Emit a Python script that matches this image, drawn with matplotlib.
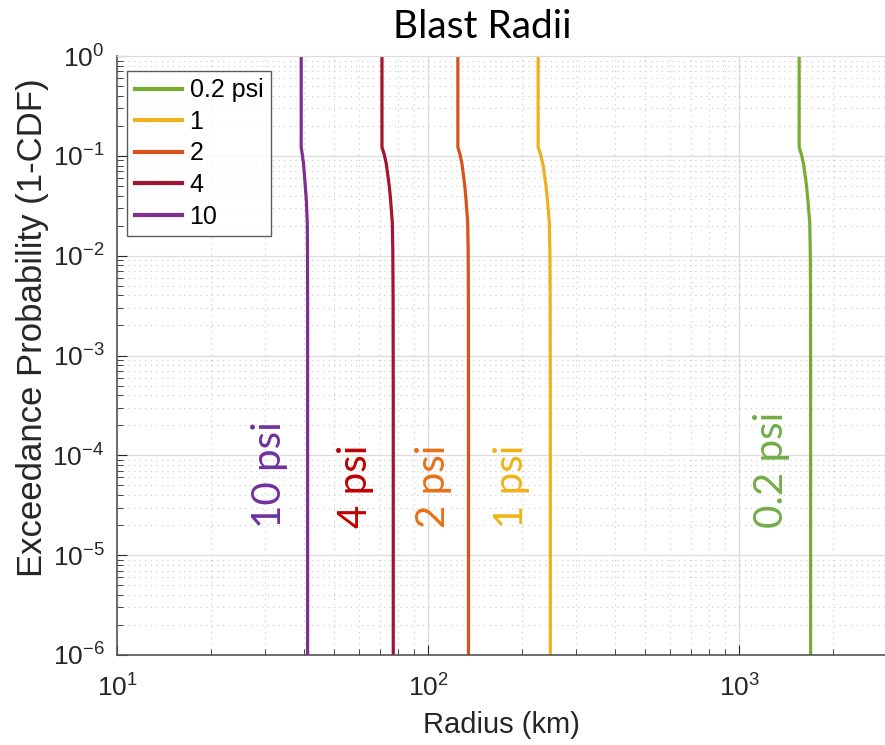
import numpy as np
import matplotlib
matplotlib.use('Agg')
from matplotlib import pyplot as plt
from matplotlib.ticker import LogLocator, NullFormatter

plt.rcParams['font.family'] = ['Liberation Sans', 'DejaVu Sans']
plt.rcParams['mathtext.fontset'] = 'custom'
plt.rcParams['mathtext.rm'] = 'Liberation Sans'
plt.rcParams['mathtext.it'] = 'Liberation Sans'

# exceedance probability levels shared by all curves
prob = [1.0, 0.122, 0.104, 0.0826, 0.0497, 0.0368, 0.0216, 0.0108, 0.00366, 3.6e-4, 1e-6]

# blast radius (km) at each probability level
r_02psi = [1560, 1560, 1585, 1612, 1648, 1663, 1687, 1694, 1697, 1698, 1698]
r_1psi = [225.9, 225.9, 229.8, 234.0, 239.5, 241.9, 245.4, 246.5, 246.9, 247.2, 247.2]
r_2psi = [124.7, 124.7, 126.6, 128.6, 131.3, 132.4, 134.1, 134.6, 134.8, 134.9, 134.9]
r_4psi = [71.1, 71.1, 72.25, 73.45, 75.05, 75.75, 76.75, 77.05, 77.2, 77.3, 77.3]
r_10psi = [39.1, 39.1, 39.4, 39.8, 40.3, 40.6, 40.9, 40.96, 41.0, 41.0, 41.0]

legend_names = ['0.2 psi', '1', '2', '4', '10']
tag_names = ['0.2 psi', '1 psi', '2 psi', '4 psi', '10 psi']
tag_x = [1270, 185, 103.8, 58.6, 31.0]

line_cols = ['#77AC30', '#EDB120', '#D95319', '#A2142F', '#7E2F8E']
tag_cols = ['#70AD47', '#F0B418', '#E97016', '#C00000', '#7030A0']

fig = plt.figure(figsize=(8.85, 7.45), dpi=100)
ax = fig.add_axes([117/885, 1-655/745, 1-117/885, (655-56)/745])

for r, c, nm in zip([r_02psi, r_1psi, r_2psi, r_4psi, r_10psi], line_cols, legend_names):
    ax.plot(r, prob, color=c, lw=2.3, label=nm)

ax.set_xscale('log')
ax.set_yscale('log')
ax.set_xlim(10, 2945)
ax.set_ylim(1e-6, 1)

ax.xaxis.set_major_locator(LogLocator(base=10, numticks=10))
ax.xaxis.set_minor_locator(LogLocator(base=10, subs=np.arange(2, 10), numticks=20))
ax.yaxis.set_major_locator(LogLocator(base=10, numticks=10))
ax.yaxis.set_minor_locator(LogLocator(base=10, subs=np.arange(2, 10), numticks=20))
ax.xaxis.set_minor_formatter(NullFormatter())
ax.yaxis.set_minor_formatter(NullFormatter())

ax.grid(True, which='major', color='#dcdcdc', lw=0.9)
ax.grid(True, which='minor', color='#c8c8c8', lw=0.8, ls=(0, (1, 4)))
ax.set_axisbelow(True)

for s in ['left', 'bottom']:
    ax.spines[s].set_color('#555555')
    ax.spines[s].set_linewidth(1.2)
ax.spines['right'].set_visible(False)
ax.spines['top'].set_color('#dcdcdc')

ax.tick_params(which='both', direction='in', labelsize=19, colors='#262626')
ax.tick_params(axis='x', pad=14)
ax.tick_params(axis='y', pad=9)
ax.tick_params(which='major', length=7)
ax.tick_params(which='minor', length=4, labelbottom=False, labelleft=False)
ax.tick_params(top=False, right=False, which='both')

ax.set_xlabel('Radius (km)', fontsize=21, color='#262626', labelpad=7)
ax.set_ylabel('Exceedance Probability (1-CDF)', fontsize=25, color='#262626')
ax.yaxis.set_label_coords(-0.088, 0.546)

fig.text(482/885, 1-38/745, 'Blast Radii', fontsize=28, family='Lato', ha='center', va='baseline')

for x, t, c in zip(tag_x, tag_names, tag_cols):
    ax.text(x, 1.86e-5, t, rotation=90, color=c, fontsize=29, family='Lato', ha='center', va='bottom')

leg = ax.legend(loc='upper left', bbox_to_anchor=(127/885, 1-71/745), bbox_transform=fig.transFigure,
                borderaxespad=0, fontsize=18, frameon=True, fancybox=False, handlelength=1.9,
                handletextpad=0.3, labelspacing=0.3, borderpad=0.3)
leg.get_frame().set_edgecolor('#333333')
leg.get_frame().set_linewidth(1.0)
for h in leg.get_lines():
    h.set_linewidth(3)

fig.savefig('out.png', dpi=100)
